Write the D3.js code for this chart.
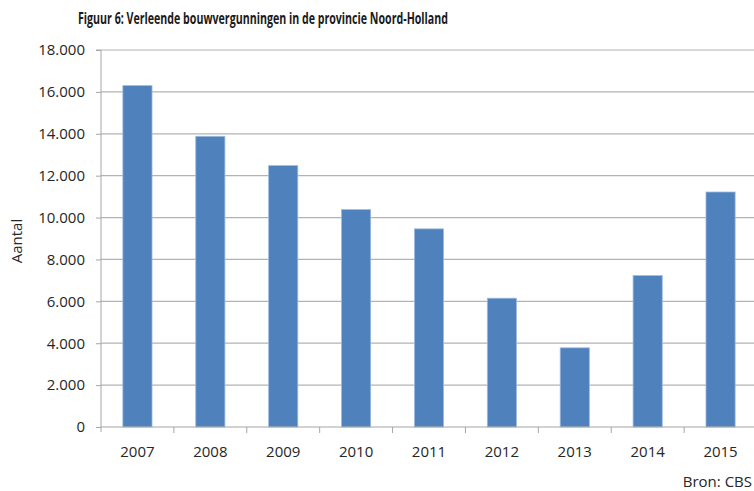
<!DOCTYPE html>
<html>
<head>
<meta charset="utf-8">
<script src="https://cdn.jsdelivr.net/npm/d3@7"></script>
<style>
  body { margin: 0; background: #fff; }
  text { font-family: "Open Sans", "Noto Sans", sans-serif; }
</style>
</head>
<body>
<div id="chart"></div>
<script>
// data
const years = ["2007", "2008", "2009", "2010", "2011", "2012", "2013", "2014", "2015"];
const permits = [16300, 13880, 12480, 10380, 9460, 6150, 3780, 7230, 11220];
const yTicks = [0, 2000, 4000, 6000, 8000, 10000, 12000, 14000, 16000, 18000];

(function () {
    const W = 754, H = 491;
    const margin = { top: 50, right: -3, bottom: 64, left: 101 },
        width = W - margin.left - margin.right,
        height = H - margin.top - margin.bottom;

    const svg = d3.select("#chart")
        .append("svg")
        .attr("width", W)
        .attr("height", H);
    const g = svg.append("g")
        .attr("transform", `translate(${margin.left},${margin.top})`);

    const x = d3.scaleBand()
        .domain(years)
        .range([0, width])
        .paddingInner(0.6)
        .paddingOuter(0.3);

    const y = d3.scaleLinear()
        .domain([0, 18000])
        .range([height, 0]);

    const fmt = v => d3.format(",")(v).replace(/,/g, ".");

    // gridlines
    g.append("g")
        .selectAll("line")
        .data(yTicks.slice(1))
        .join("line")
        .attr("x1", 0)
        .attr("x2", width)
        .attr("y1", d => y(d))
        .attr("y2", d => y(d))
        .attr("stroke", "#b3b3b3")
        .attr("stroke-width", 1.2);

    // bars
    g.append("g")
        .selectAll("rect")
        .data(permits)
        .join("rect")
        .attr("x", (d, i) => x(years[i]))
        .attr("y", d => y(d))
        .attr("width", x.bandwidth())
        .attr("height", d => height - y(d))
        .attr("fill", "#4f81bd")
        .attr("stroke", "#9dbbe0")
        .attr("stroke-width", 0.8);

    // y axis
    const yAxis = g.append("g")
        .call(d3.axisLeft(y).tickValues(yTicks).tickFormat(fmt).tickSize(5).tickPadding(11));
    yAxis.select(".domain").attr("stroke", "#a6a6a6").attr("d", `M-5,${y(18000)}H0V${height + 5}`);
    yAxis.selectAll(".tick line").attr("stroke", "#a6a6a6");
    yAxis.selectAll("text").attr("font-size", "15px").attr("fill", "#262626");

    // x axis
    const gap = (x.step() - x.bandwidth()) / 2;
    const xAxis = g.append("g")
        .attr("transform", `translate(0,${height})`);
    xAxis.append("line")
        .attr("x1", 0).attr("x2", width)
        .attr("stroke", "#a6a6a6").attr("stroke-width", 1.2);
    xAxis.selectAll(".xt")
        .data(years.slice(1))
        .join("line")
        .attr("class", "xt")
        .attr("x1", d => x(d) - gap)
        .attr("x2", d => x(d) - gap)
        .attr("y1", 0).attr("y2", 6)
        .attr("stroke", "#a6a6a6");
    xAxis.selectAll(".xl")
        .data(years)
        .join("text")
        .attr("class", "xl")
        .attr("x", d => x(d) + x.bandwidth() / 2)
        .attr("y", 30)
        .attr("text-anchor", "middle")
        .attr("font-size", "15px")
        .attr("fill", "#262626")
        .text(d => d);

    // axis title
    svg.append("text")
        .attr("transform", `translate(22,241) rotate(-90)`)
        .attr("text-anchor", "middle")
        .attr("font-size", "15px")
        .attr("fill", "#262626")
        .text("Aantal");

    // title
    svg.append("text")
        .attr("x", 78)
        .attr("y", 24)
        .attr("font-size", "16.5px")
        .attr("font-weight", "bold")
        .attr("fill", "#1a1a1a")
        .style("font-family", "'Liberation Sans Narrow', 'Open Sans', sans-serif")
        .attr("textLength", 370)
        .attr("lengthAdjust", "spacingAndGlyphs")
        .text("Figuur 6: Verleende bouwvergunningen in de provincie Noord-Holland");

    // source
    svg.append("text")
        .attr("x", 752)
        .attr("y", 487)
        .attr("text-anchor", "end")
        .attr("font-size", "15px")
        .attr("fill", "#262626")
        .text("Bron: CBS");
})()
</script>
</body>
</html>
